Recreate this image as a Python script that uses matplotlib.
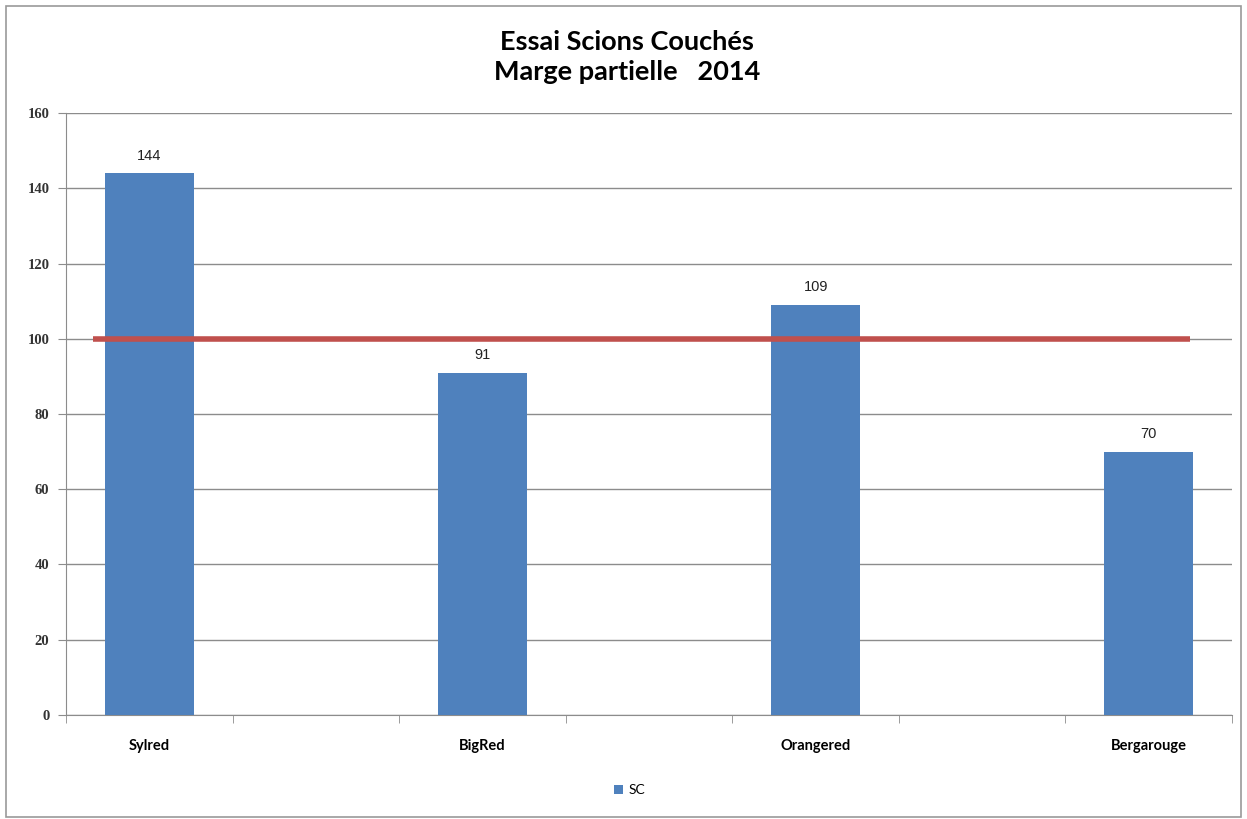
import matplotlib.pyplot as plt
from matplotlib.patches import Rectangle

# donnees
varietes = ["Sylred", "BigRed", "Orangered", "Bergarouge"]
marge = [144, 91, 109, 70]
reference = 100
titre = "Essai Scions Couchés\nMarge partielle   2014"
serie = "SC"

fig = plt.figure(figsize=(12.47, 8.19), dpi=100)
ax = fig.add_axes([0.053, 0.127, 0.935, 0.735])

# une categorie vide entre chaque variete (comme dans le tableur)
pos = [2 * i for i in range(len(varietes))]
barres = ax.bar(pos, marge, width=0.535, color="#4F81BD", label=serie, zorder=3)
for b, v in zip(barres, marge):
    ax.text(b.get_x() + b.get_width() / 2, v + 2.8, str(v), ha="center", va="bottom",
            fontsize=10.5, family="Liberation Sans", color="#222222")

# ligne de reference a 100
ax.plot([-0.34, 6.25], [reference, reference], color="#C0504D", lw=4, zorder=4,
        solid_capstyle="butt")

ax.set_xlim(-0.5, 6.5)
ax.set_ylim(0, 160)
ax.set_yticks(range(0, 161, 20))
ax.set_yticklabels([str(v) for v in range(0, 161, 20)], family="Liberation Serif",
                   fontsize=10.5, fontweight="bold", color="#333333")
ax.yaxis.grid(True, color="#8c8c8c", lw=1)
ax.set_axisbelow(True)
ax.tick_params(axis="y", length=6, color="#8c8c8c", pad=6)

ax.set_xticks(pos)
ax.set_xticklabels(varietes, family="Lato", fontsize=10.5, fontweight="bold")
ax.set_xticks([x - 0.5 for x in range(8)], minor=True)
ax.tick_params(axis="x", which="major", length=0, pad=17)
ax.tick_params(axis="x", which="minor", length=6, color="#8c8c8c")

for s in ["top", "right"]:
    ax.spines[s].set_visible(False)
for s in ["left", "bottom"]:
    ax.spines[s].set_color("#8c8c8c")

fig.text(0.503, 0.93, titre, ha="center", va="center", fontsize=19.5,
         family="Lato", fontweight="bold", linespacing=1.3)

fig.legend(handles=[barres], labels=[serie], loc="center", bbox_to_anchor=(0.505, 0.035),
           frameon=False, handlelength=0.7, handleheight=0.7, handletextpad=0.4,
           prop={"family": "Lato", "size": 10})

fig.patches.append(Rectangle((0.005, 0.003), 0.99, 0.99, transform=fig.transFigure,
                             fill=False, edgecolor="#9a9a9a", lw=1.2))

fig.savefig("out.png", dpi=100)
